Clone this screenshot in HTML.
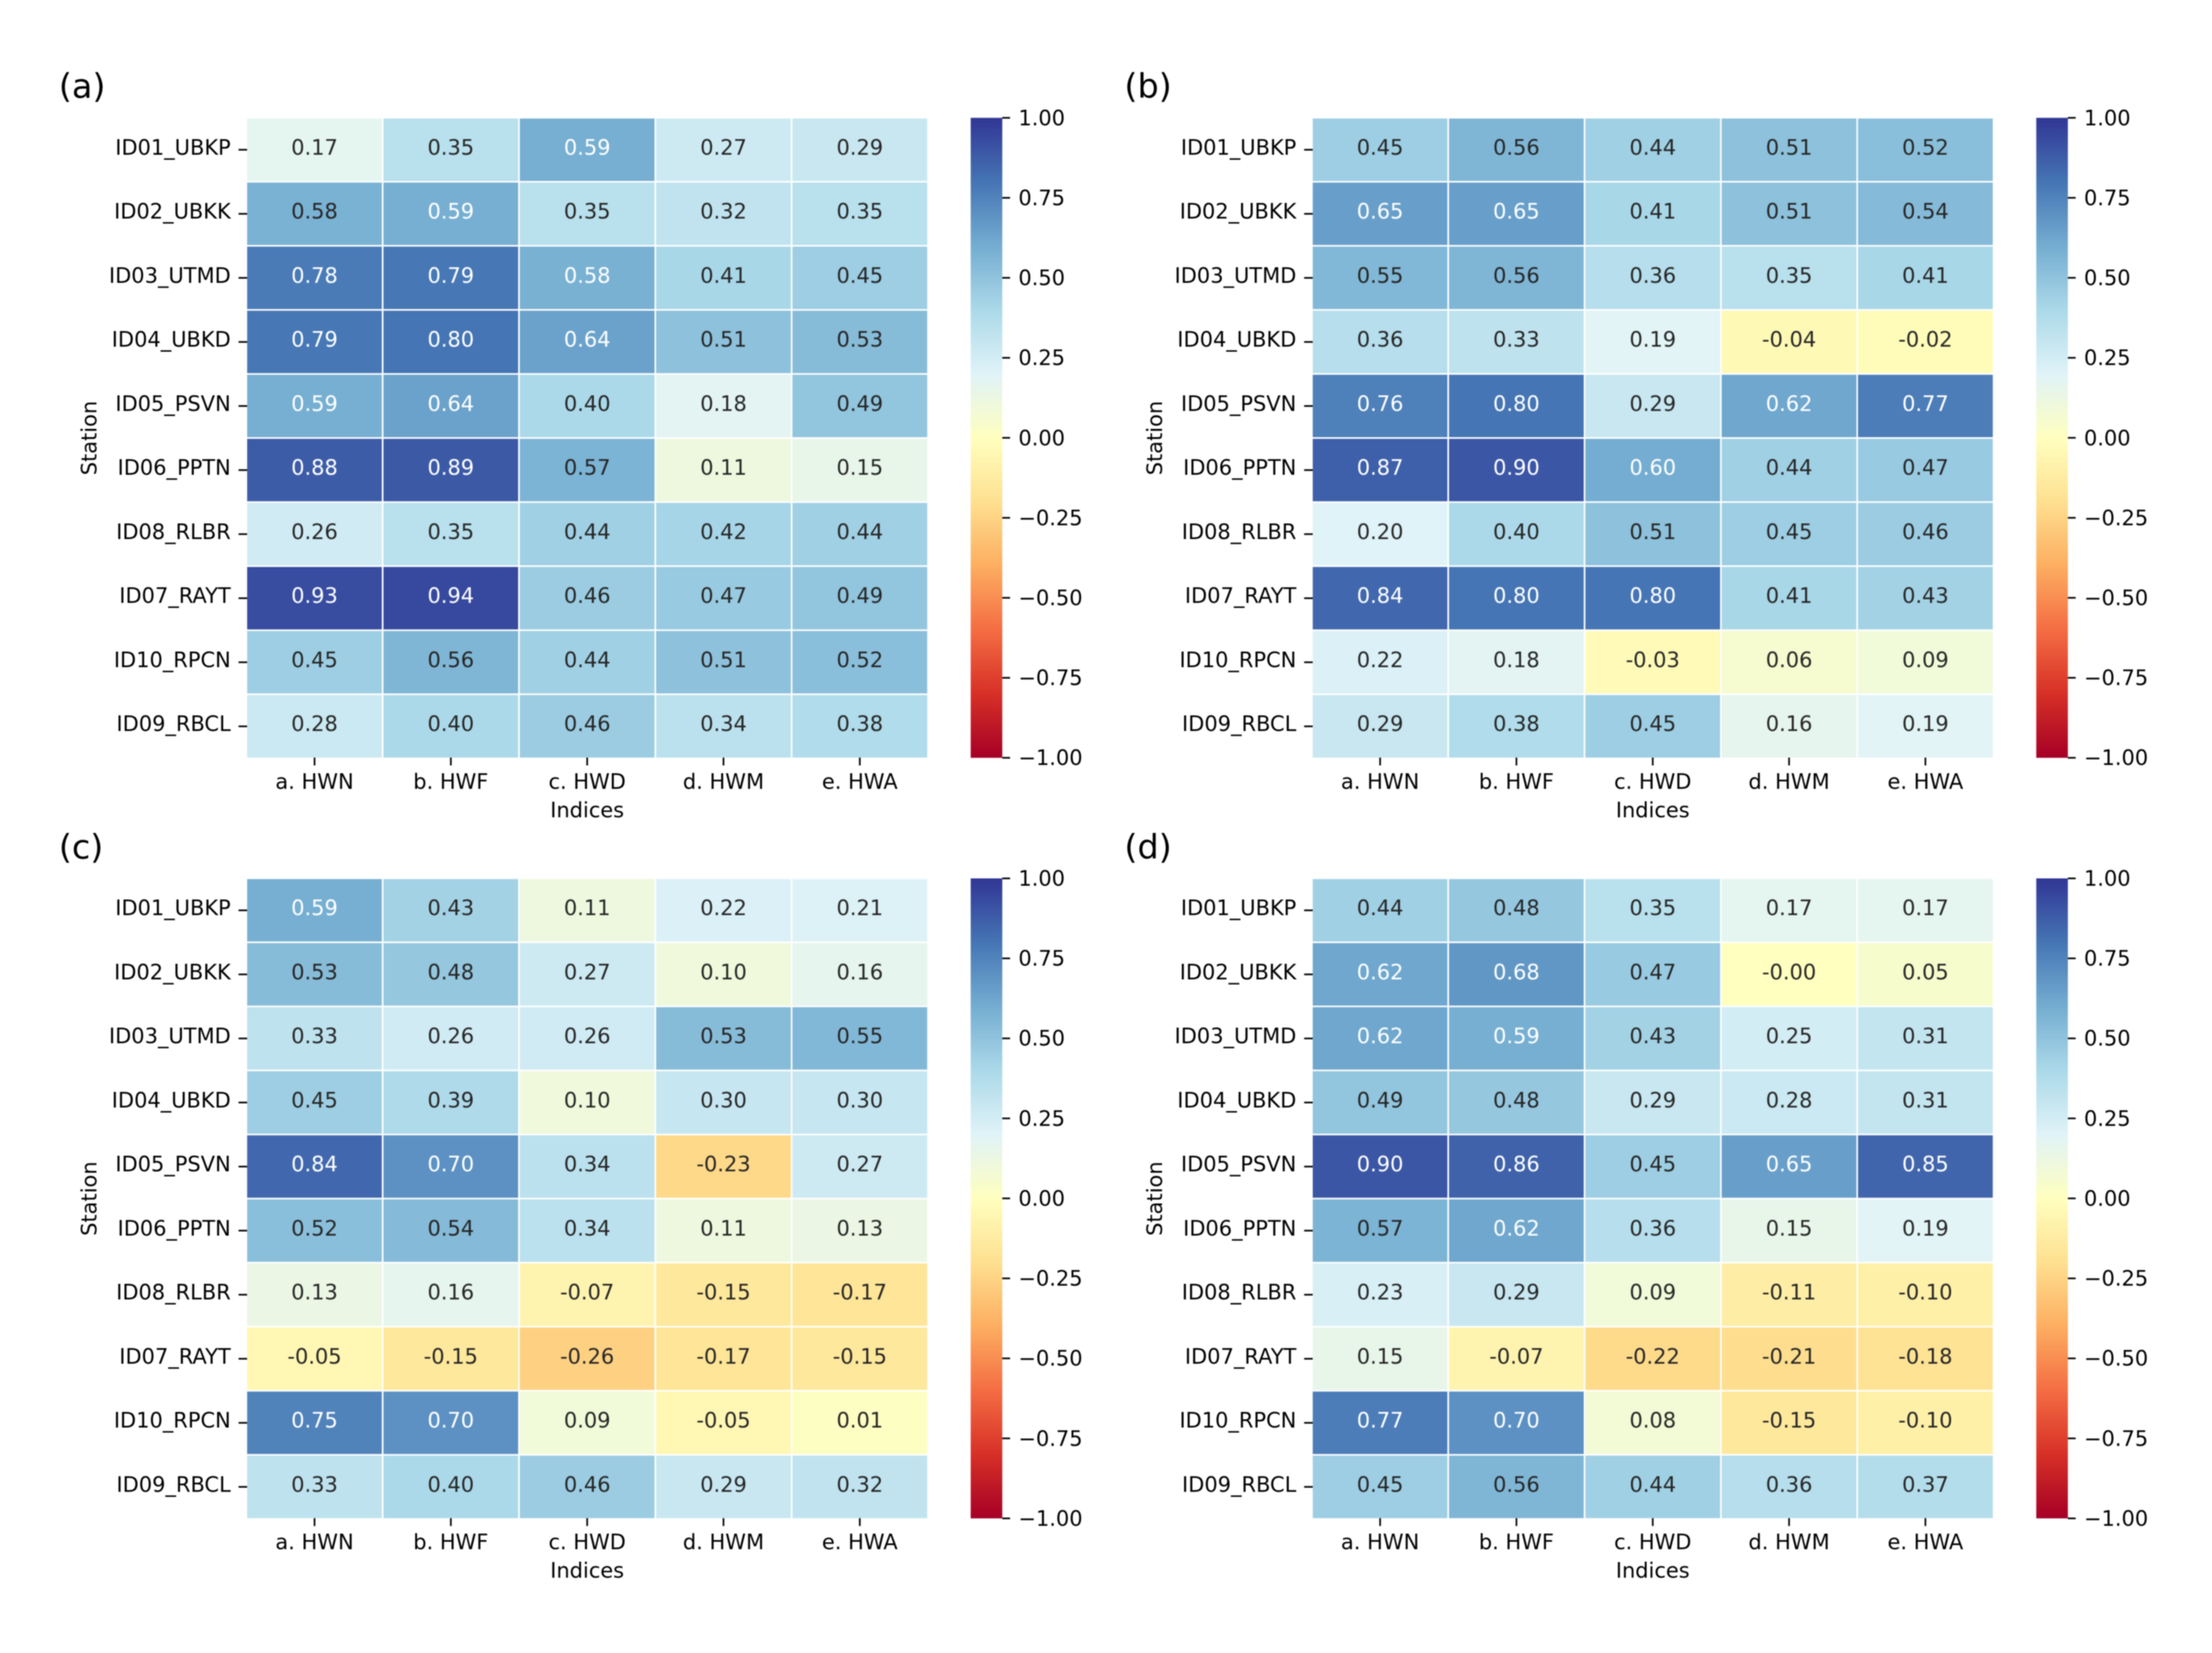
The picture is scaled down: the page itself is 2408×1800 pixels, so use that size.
<!DOCTYPE html>
<html lang="en">
<head>
<meta charset="utf-8">
<title>Station correlation heatmaps</title>
<style>
  html, body { margin: 0; padding: 0; background: #fff; width: 2408px; height: 1800px; overflow: hidden; }
  svg { display: block; filter: blur(0.6px); }
  text { font-family: "DejaVu Sans", "Liberation Sans", sans-serif; font-size: 22.8px; fill: #000; }
</style>
</head>
<body>
<svg id="figure" xmlns="http://www.w3.org/2000/svg" width="2408" height="1800" viewBox="0 0 2408 1800">
  <defs>
    <linearGradient id="cbar-gradient" x1="0" y1="1" x2="0" y2="0"></linearGradient>
  </defs>
</svg>
<script>
const indices = ["a. HWN", "b. HWF", "c. HWD", "d. HWM", "e. HWA"];
const stations = ["ID01_UBKP", "ID02_UBKK", "ID03_UTMD", "ID04_UBKD", "ID05_PSVN", "ID06_PPTN", "ID08_RLBR", "ID07_RAYT", "ID10_RPCN", "ID09_RBCL"];
const colorbarTicks = [1, 0.75, 0.5, 0.25, 0, -0.25, -0.5, -0.75, -1];
const colorbarLabels = ["1.00", "0.75", "0.50", "0.25", "0.00", "\u22120.25", "\u22120.50", "\u22120.75", "\u22121.00"];
const colormapAnchors = ["#a50026", "#d73027", "#f46d43", "#fdae61", "#fee090", "#ffffbf", "#e0f3f8", "#abd9e9", "#74add1", "#4575b4", "#313695"];

const valuesA = [
  [0.17, 0.35, 0.59, 0.27, 0.29],
  [0.579, 0.59, 0.35, 0.32, 0.35],
  [0.78, 0.79, 0.583, 0.41, 0.45],
  [0.79, 0.80, 0.64, 0.51, 0.53],
  [0.59, 0.64, 0.40, 0.18, 0.49],
  [0.88, 0.89, 0.57, 0.11, 0.15],
  [0.26, 0.35, 0.44, 0.42, 0.44],
  [0.93, 0.94, 0.46, 0.47, 0.49],
  [0.45, 0.56, 0.44, 0.51, 0.52],
  [0.28, 0.40, 0.46, 0.34, 0.38]
];
const valuesB = [
  [0.45, 0.56, 0.44, 0.51, 0.52],
  [0.65, 0.65, 0.41, 0.51, 0.54],
  [0.55, 0.56, 0.36, 0.35, 0.41],
  [0.36, 0.33, 0.19, -0.04, -0.02],
  [0.76, 0.80, 0.29, 0.62, 0.77],
  [0.87, 0.90, 0.60, 0.44, 0.47],
  [0.20, 0.40, 0.51, 0.45, 0.46],
  [0.84, 0.80, 0.80, 0.41, 0.43],
  [0.22, 0.18, -0.03, 0.06, 0.09],
  [0.29, 0.38, 0.45, 0.16, 0.19]
];
const valuesC = [
  [0.59, 0.43, 0.11, 0.22, 0.21],
  [0.53, 0.48, 0.27, 0.10, 0.16],
  [0.33, 0.26, 0.26, 0.53, 0.55],
  [0.45, 0.39, 0.10, 0.30, 0.30],
  [0.84, 0.70, 0.34, -0.23, 0.27],
  [0.52, 0.54, 0.34, 0.11, 0.13],
  [0.13, 0.16, -0.07, -0.15, -0.17],
  [-0.05, -0.15, -0.26, -0.17, -0.15],
  [0.75, 0.70, 0.09, -0.05, 0.01],
  [0.33, 0.40, 0.46, 0.29, 0.32]
];
const valuesD = [
  [0.44, 0.48, 0.35, 0.17, 0.17],
  [0.62, 0.68, 0.47, -0.001, 0.05],
  [0.62, 0.59, 0.43, 0.25, 0.31],
  [0.49, 0.48, 0.29, 0.28, 0.31],
  [0.90, 0.86, 0.45, 0.65, 0.85],
  [0.57, 0.62, 0.36, 0.15, 0.19],
  [0.23, 0.29, 0.09, -0.11, -0.10],
  [0.15, -0.07, -0.22, -0.21, -0.18],
  [0.77, 0.70, 0.08, -0.15, -0.10],
  [0.45, 0.56, 0.44, 0.36, 0.37]
];

const svg = document.getElementById("figure");
const NS = "http://www.w3.org/2000/svg";
const PLOT_W = 742;
const PLOT_H = 697.6;
const CBAR_OFFSET = 788.5;
const CBAR_W = 34.4;
const CBAR_H = 696.9;
const CBAR_TOP = 0.1;
const TICK = 8.5;
const VMIN = -1;
const VMAX = 1;

function hexToRgb(h) {
  return [parseInt(h.slice(1, 3), 16), parseInt(h.slice(3, 5), 16), parseInt(h.slice(5, 7), 16)];
}
function colormap(v) {
  const t = Math.max(0, Math.min(1, (v - VMIN) / (VMAX - VMIN))) * (colormapAnchors.length - 1);
  const i = Math.min(colormapAnchors.length - 2, Math.floor(t));
  const f = t - i;
  const a = hexToRgb(colormapAnchors[i]);
  const b = hexToRgb(colormapAnchors[i + 1]);
  return [0, 1, 2].map(k => Math.round(a[k] + (b[k] - a[k]) * f));
}
function luminance(rgb) {
  const lin = rgb.map(c => {
    const s = c / 255;
    return s <= 0.03928 ? s / 12.92 : Math.pow((s + 0.055) / 1.055, 2.4);
  });
  return 0.2126 * lin[0] + 0.7152 * lin[1] + 0.0722 * lin[2];
}
function el(tag, attrs, parent) {
  const node = document.createElementNS(NS, tag);
  for (const k in attrs) node.setAttribute(k, attrs[k]);
  parent.appendChild(node);
  return node;
}

const gradient = document.getElementById("cbar-gradient");
colormapAnchors.forEach((c, i) => {
  el("stop", { offset: i / (colormapAnchors.length - 1), "stop-color": c }, gradient);
});

function drawPanel(values, letter, left, top) {
  const colW = PLOT_W / indices.length;
  const rowH = PLOT_H / stations.length;
  const xCenter = c => left + (c + 0.5) * colW;
  const yCenter = r => top + (r + 0.5) * rowH;
  const cbarY = v => top + CBAR_TOP + (VMAX - v) / (VMAX - VMIN) * CBAR_H;

  const g = el("g", {}, svg);
  
  

  const label = el("text", { x: left - 204.2, y: top - 21.5, style: "font-size:36.5px" }, g);
  label.textContent = "(" + letter + ")";
  
  

  values.forEach((row, r) => {
    row.forEach((v, c) => {
      const rgb = colormap(v);
      const cell = el("rect", {
        x: left + c * colW, y: top + r * rowH, width: colW, height: rowH,
        fill: "rgb(" + rgb.join(",") + ")", stroke: "#fff", "stroke-width": 1.7
      }, g);
      
      
    });
  });
  values.forEach((row, r) => {
    row.forEach((v, c) => {
      const rgb = colormap(v);
      const t = el("text", {
        x: xCenter(c), y: yCenter(r) + 5.3, "text-anchor": "middle",
        style: "fill:" + (luminance(rgb) > 0.403 ? "#262626" : "#ffffff")
      }, g);
      t.textContent = v.toFixed(2);
      
      
    });
  });

  stations.forEach((s, r) => {
    const tick = el("line", { x1: left - TICK, x2: left + 0.8, y1: yCenter(r), y2: yCenter(r), stroke: "#000", "stroke-width": 1.8 }, g);
    
    
    const t = el("text", { x: left - 17, y: yCenter(r) + 5.3, "text-anchor": "end" }, g);
    t.textContent = s;
    
    
  });

  indices.forEach((s, c) => {
    const tick = el("line", { x1: xCenter(c), x2: xCenter(c), y1: top + PLOT_H - 0.8, y2: top + PLOT_H + TICK - 0.8, stroke: "#000", "stroke-width": 1.8 }, g);
    
    
    const t = el("text", { x: xCenter(c), y: top + PLOT_H + 33.2, "text-anchor": "middle" }, g);
    t.textContent = s;
    
    
  });

  const xTitle = el("text", { x: left + PLOT_W / 2, y: top + PLOT_H + 64.2, "text-anchor": "middle" }, g);
  xTitle.textContent = "Indices";
  
  

  const yx = left - 163.2;
  const yy = top + PLOT_H / 2;
  const yTitle = el("text", { x: yx, y: yy, "text-anchor": "middle", transform: "rotate(-90 " + yx + " " + yy + ")" }, g);
  yTitle.textContent = "Station";
  
  

  const cbarX = left + CBAR_OFFSET;
  const bar = el("rect", { x: cbarX, y: top + CBAR_TOP, width: CBAR_W, height: CBAR_H, fill: "url(#cbar-gradient)" }, g);
  
  
  colorbarTicks.forEach((v, i) => {
    const y = cbarY(v);
    const tick = el("line", { x1: cbarX + CBAR_W, x2: cbarX + CBAR_W + TICK, y1: y, y2: y, stroke: "#000", "stroke-width": 1.8 }, g);
    
    
    const t = el("text", { x: cbarX + CBAR_W + 17.5, y: y + 8 }, g);
    t.textContent = colorbarLabels[i];
    
    
  });
}

drawPanel(valuesA, "a", 268.2, 128.2);
drawPanel(valuesB, "b", 1428.2, 128.2);
drawPanel(valuesC, "c", 268.2, 956.4);
drawPanel(valuesD, "d", 1428.2, 956.4);
</script>
</body>
</html>
